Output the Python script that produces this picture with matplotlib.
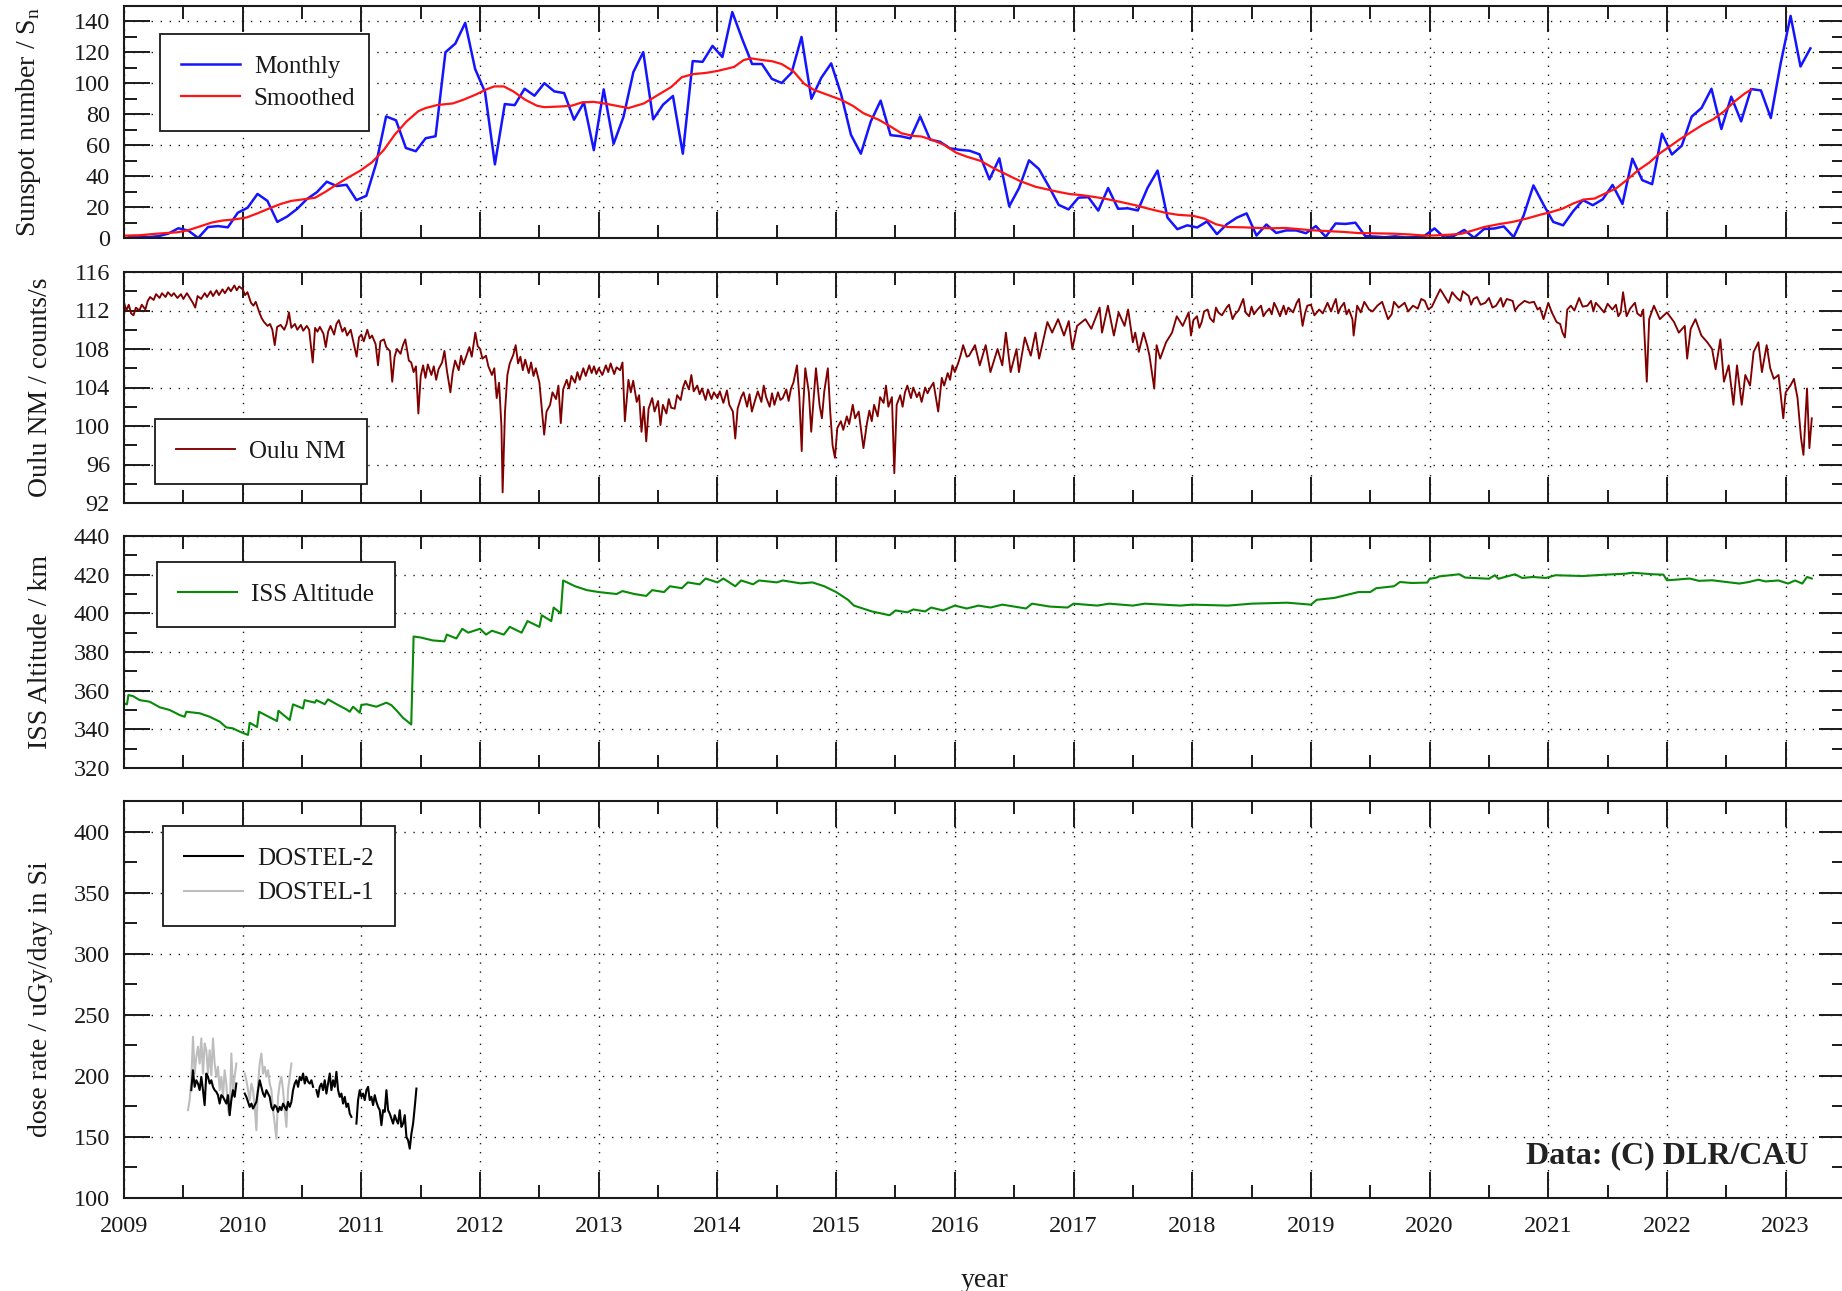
import numpy as np
import matplotlib
matplotlib.use("Agg")
import matplotlib.pyplot as plt
from matplotlib.ticker import MultipleLocator, FormatStrFormatter

plt.rcParams['font.family'] = ['Liberation Serif', 'DejaVu Serif']
plt.rcParams['mathtext.fontset'] = 'custom'
plt.rcParams['mathtext.rm'] = 'Liberation Serif'

# ---------------- data ----------------
sunspot_first_year = 2009
sunspot_monthly = [
    1.2, 1.3, 0.6, 1.2, 2.9, 6.3, 4.8, 0.0, 7.1, 7.7, 6.9, 16.3,
    19.6, 28.5, 24.0, 10.4, 13.9, 18.8, 25.2, 29.6, 36.4, 33.6, 34.4, 24.5,
    27.3, 48.3, 78.6, 76.1, 58.2, 56.1, 64.5, 65.8, 120.1, 125.7, 139.1, 109.3,
    94.4, 47.6, 86.6, 85.9, 96.5, 92.0, 100.1, 94.8, 93.7, 76.5, 87.6, 56.8,
    96.1, 60.9, 78.3, 107.3, 120.2, 76.7, 86.2, 91.8, 54.5, 114.4, 113.9, 124.2,
    117.0, 146.1, 128.7, 112.5, 112.5, 102.9, 100.2, 106.9, 130.0, 90.0, 103.6, 112.9,
    93.0, 66.7, 54.5, 75.3, 88.8, 66.5, 65.8, 64.4, 78.6, 63.6, 62.2, 58.0,
    57.0, 56.4, 54.1, 37.9, 51.5, 20.5, 32.4, 50.2, 44.6, 33.4, 21.4, 18.5,
    26.1, 26.4, 17.7, 32.3, 18.9, 19.2, 17.8, 32.6, 43.6, 13.2, 5.7, 8.2,
    6.8, 10.7, 2.5, 8.9, 13.1, 15.9, 1.6, 8.7, 3.3, 4.9, 4.9, 3.1,
    7.7, 0.8, 9.4, 9.1, 9.9, 1.2, 0.9, 0.5, 1.1, 0.4, 0.5, 1.5,
    6.2, 0.2, 1.5, 5.2, 0.2, 5.8, 6.1, 7.5, 0.6, 14.4, 34.0, 21.8,
    10.4, 8.2, 17.2, 24.5, 21.2, 25.0, 34.3, 22.0, 51.3, 37.4, 34.8, 67.5,
    54.0, 59.7, 78.5, 84.1, 96.5, 70.5, 91.4, 75.4, 96.3, 95.4, 77.6, 113.1,
    143.6, 110.9, 122.6,
]

smoothed_years = [
    2009.00, 2009.12, 2009.28, 2009.45, 2009.54, 2009.62, 2009.74, 2009.83, 2009.93,
    2010.03, 2010.12, 2010.22, 2010.32, 2010.41, 2010.51, 2010.61, 2010.70, 2010.80, 2010.90,
    2010.99, 2011.09, 2011.19, 2011.28, 2011.38, 2011.48, 2011.54, 2011.64, 2011.77, 2011.86,
    2011.96, 2012.06, 2012.12, 2012.20, 2012.28, 2012.38, 2012.48, 2012.54, 2012.67, 2012.77,
    2012.86, 2012.96, 2013.06, 2013.15, 2013.25, 2013.38, 2013.48, 2013.61, 2013.70, 2013.80,
    2013.90, 2014.00, 2014.14, 2014.22, 2014.28, 2014.38, 2014.46, 2014.54, 2014.64, 2014.73,
    2014.81, 2014.94, 2015.04, 2015.14, 2015.23, 2015.36, 2015.46, 2015.55, 2015.65, 2015.72,
    2015.81, 2015.91, 2016.01, 2016.10, 2016.22, 2016.33, 2016.43, 2016.55, 2016.68, 2016.78,
    2016.88, 2016.97, 2017.07, 2017.17, 2017.26, 2017.39, 2017.52, 2017.65, 2017.78, 2017.88,
    2018.01, 2018.10, 2018.20, 2018.30, 2018.43, 2018.55, 2018.68, 2018.78, 2018.89,
    2019.01, 2019.13, 2019.28, 2019.40, 2019.58, 2019.70, 2019.85, 2019.97, 2020.06, 2020.18,
    2020.27, 2020.37, 2020.46, 2020.58, 2020.70, 2020.82, 2020.94, 2021.03, 2021.12, 2021.21,
    2021.30, 2021.39, 2021.48, 2021.57, 2021.66, 2021.76, 2021.85, 2021.94, 2022.02, 2022.11,
    2022.21, 2022.30, 2022.39, 2022.48, 2022.57, 2022.66, 2022.71,
]
smoothed_values = [
    1.5, 1.7, 2.8, 3.7, 5.0, 7.0, 10.0, 11.3, 12.0,
    13.2, 15.8, 19.0, 22.0, 24.0, 25.0, 26.0, 30.0, 35.0, 39.6,
    43.5, 49.0, 57.0, 66.7, 75.3, 82.0, 84.0, 86.0, 87.0, 89.4,
    92.6, 96.3, 98.0, 98.0, 94.8, 89.4, 85.5, 84.6, 85.0, 85.5,
    87.7, 88.0, 86.8, 85.5, 84.0, 87.0, 91.6, 97.6, 104.0, 106.0,
    106.7, 108.0, 110.6, 115.0, 116.2, 115.0, 114.3, 112.5, 107.8, 99.8,
    95.9, 92.2, 89.4, 85.5, 80.7, 76.4, 72.0, 67.7, 66.0, 65.6,
    63.4, 60.2, 55.2, 52.6, 49.8, 45.0, 41.3, 36.8, 33.1, 31.4,
    29.7, 28.4, 27.7, 26.6, 25.5, 23.4, 21.2, 18.6, 16.2, 15.0,
    14.3, 12.6, 8.9, 7.1, 6.9, 6.5, 6.3, 6.5, 5.8,
    5.0, 4.5, 3.9, 3.2, 3.0, 2.8, 2.2, 1.5, 1.7, 2.2,
    2.8, 5.0, 7.1, 8.9, 10.4, 12.6, 15.2, 16.9, 19.0, 22.3,
    24.9, 25.5, 28.8, 32.0, 37.4, 44.0, 48.7, 54.8, 59.0, 63.9,
    68.8, 73.2, 76.8, 81.8, 88.3, 93.7, 95.9,
]

oulu_points = [
    (2009.00, 112.8), (2009.02, 112.0), (2009.04, 112.6), (2009.06, 111.7), (2009.08, 111.5),
    (2009.10, 112.3), (2009.13, 112.0), (2009.15, 112.6), (2009.18, 112.1), (2009.20, 113.0),
    (2009.22, 113.4), (2009.25, 113.1), (2009.27, 113.7), (2009.30, 113.3), (2009.32, 113.8),
    (2009.35, 113.4), (2009.37, 113.9), (2009.40, 113.5), (2009.42, 113.8), (2009.45, 113.3),
    (2009.48, 113.7), (2009.50, 113.2), (2009.53, 113.8), (2009.55, 113.4), (2009.58, 112.8),
    (2009.60, 112.3), (2009.62, 113.5), (2009.65, 113.2), (2009.68, 113.8), (2009.70, 113.4),
    (2009.73, 114.0), (2009.75, 113.5), (2009.78, 114.1), (2009.80, 113.6), (2009.83, 114.2),
    (2009.85, 113.8), (2009.88, 114.4), (2009.90, 114.0), (2009.93, 114.6), (2009.95, 114.1),
    (2009.97, 114.5), (2010.00, 114.2), (2010.02, 113.6), (2010.04, 113.9), (2010.07, 112.8),
    (2010.09, 112.5), (2010.11, 112.9), (2010.14, 111.8), (2010.16, 111.2), (2010.18, 110.8),
    (2010.21, 110.4), (2010.23, 110.6), (2010.25, 110.0), (2010.27, 108.4), (2010.29, 110.3),
    (2010.32, 110.5), (2010.35, 110.0), (2010.37, 110.6), (2010.39, 111.8), (2010.41, 110.2),
    (2010.44, 110.6), (2010.46, 110.0), (2010.49, 110.5), (2010.51, 109.9), (2010.54, 110.4),
    (2010.56, 110.0), (2010.59, 106.6), (2010.61, 110.2), (2010.63, 109.8), (2010.65, 110.3),
    (2010.68, 109.6), (2010.70, 108.2), (2010.72, 109.8), (2010.74, 110.4), (2010.77, 109.5),
    (2010.79, 110.6), (2010.81, 111.0), (2010.84, 109.8), (2010.86, 110.2), (2010.88, 109.4),
    (2010.91, 110.0), (2010.93, 108.9), (2010.96, 107.2), (2010.98, 109.2), (2011.00, 109.5),
    (2011.02, 108.8), (2011.05, 110.0), (2011.07, 109.1), (2011.09, 109.4), (2011.12, 108.5),
    (2011.14, 106.3), (2011.16, 108.8), (2011.19, 109.0), (2011.21, 108.2), (2011.24, 107.8),
    (2011.26, 104.6), (2011.28, 107.2), (2011.30, 108.0), (2011.33, 107.5), (2011.35, 108.4),
    (2011.37, 109.0), (2011.40, 106.8), (2011.42, 106.6), (2011.44, 105.6), (2011.46, 106.2),
    (2011.48, 101.3), (2011.50, 105.2), (2011.52, 106.3), (2011.54, 105.0), (2011.56, 106.4),
    (2011.59, 105.3), (2011.61, 106.2), (2011.63, 104.8), (2011.65, 105.9), (2011.68, 106.6),
    (2011.70, 107.8), (2011.72, 105.8), (2011.75, 103.5), (2011.77, 105.6), (2011.79, 106.8),
    (2011.82, 105.8), (2011.84, 107.3), (2011.86, 106.4), (2011.89, 107.5), (2011.91, 108.2),
    (2011.93, 107.2), (2011.96, 109.7), (2011.98, 108.3), (2012.00, 108.0), (2012.02, 107.0),
    (2012.05, 107.3), (2012.07, 106.2), (2012.10, 105.3), (2012.12, 106.0), (2012.14, 102.9),
    (2012.16, 104.5), (2012.18, 100.0), (2012.19, 93.1), (2012.21, 101.5), (2012.23, 105.3),
    (2012.25, 106.5), (2012.28, 107.4), (2012.30, 108.4), (2012.32, 106.5), (2012.34, 107.2),
    (2012.36, 105.8), (2012.38, 106.9), (2012.41, 105.5), (2012.43, 106.6), (2012.45, 105.2),
    (2012.47, 106.0), (2012.50, 104.5), (2012.52, 101.8), (2012.54, 99.1), (2012.56, 101.5),
    (2012.59, 102.2), (2012.61, 103.5), (2012.64, 102.8), (2012.66, 104.2), (2012.68, 100.3),
    (2012.70, 103.8), (2012.73, 104.8), (2012.75, 103.9), (2012.77, 105.2), (2012.80, 104.5),
    (2012.82, 105.6), (2012.84, 104.8), (2012.87, 106.0), (2012.89, 105.2), (2012.92, 106.3),
    (2012.94, 105.5), (2012.96, 106.2), (2012.98, 105.4), (2013.00, 106.0), (2013.03, 105.3),
    (2013.06, 106.3), (2013.08, 105.6), (2013.10, 106.5), (2013.13, 105.4), (2013.15, 106.1),
    (2013.18, 105.8), (2013.20, 106.6), (2013.22, 100.5), (2013.25, 104.8), (2013.27, 103.5),
    (2013.29, 104.7), (2013.32, 102.5), (2013.34, 103.2), (2013.36, 99.4), (2013.38, 102.0),
    (2013.40, 98.4), (2013.42, 101.8), (2013.45, 102.9), (2013.47, 101.5), (2013.50, 102.6),
    (2013.52, 100.1), (2013.54, 102.2), (2013.57, 101.3), (2013.59, 102.8), (2013.61, 101.9),
    (2013.64, 101.8), (2013.66, 103.2), (2013.69, 102.7), (2013.71, 104.0), (2013.73, 104.7),
    (2013.76, 103.8), (2013.78, 105.3), (2013.80, 103.6), (2013.83, 104.2), (2013.85, 103.3),
    (2013.87, 103.9), (2013.90, 102.7), (2013.92, 103.8), (2013.95, 102.8), (2013.97, 103.5),
    (2014.00, 102.9), (2014.02, 103.6), (2014.05, 102.4), (2014.08, 103.7), (2014.10, 102.2),
    (2014.13, 101.5), (2014.15, 98.7), (2014.17, 101.8), (2014.20, 103.0), (2014.22, 103.5),
    (2014.25, 102.0), (2014.27, 103.3), (2014.29, 101.5), (2014.32, 102.8), (2014.34, 103.6),
    (2014.37, 102.5), (2014.39, 104.2), (2014.41, 103.0), (2014.44, 102.0), (2014.46, 103.4),
    (2014.48, 102.2), (2014.51, 103.5), (2014.53, 102.7), (2014.55, 102.9), (2014.58, 103.8),
    (2014.60, 102.6), (2014.62, 103.9), (2014.64, 104.5), (2014.67, 106.3), (2014.69, 103.0),
    (2014.71, 97.4), (2014.72, 101.5), (2014.74, 106.0), (2014.77, 103.5), (2014.79, 99.4),
    (2014.81, 102.8), (2014.83, 106.0), (2014.86, 102.2), (2014.88, 100.8), (2014.90, 103.6),
    (2014.93, 106.0), (2014.95, 101.5), (2014.97, 98.0), (2014.99, 96.7), (2015.01, 99.8),
    (2015.04, 100.5), (2015.06, 99.6), (2015.09, 101.0), (2015.11, 100.2), (2015.14, 102.2),
    (2015.16, 100.8), (2015.19, 101.5), (2015.21, 99.6), (2015.23, 97.7), (2015.26, 100.3),
    (2015.28, 101.6), (2015.30, 100.5), (2015.32, 102.2), (2015.35, 101.0), (2015.37, 103.0),
    (2015.40, 102.4), (2015.42, 104.2), (2015.44, 102.0), (2015.47, 103.0), (2015.49, 95.1),
    (2015.51, 102.2), (2015.54, 103.2), (2015.56, 102.0), (2015.58, 103.5), (2015.60, 104.2),
    (2015.63, 102.9), (2015.65, 104.0), (2015.68, 103.0), (2015.70, 103.5), (2015.72, 102.5),
    (2015.75, 104.0), (2015.77, 103.4), (2015.79, 103.9), (2015.82, 104.5), (2015.84, 103.0),
    (2015.86, 101.5), (2015.89, 105.0), (2015.91, 104.2), (2015.94, 105.5), (2015.96, 104.8),
    (2015.98, 106.3), (2016.00, 105.6), (2016.03, 106.6), (2016.05, 107.4), (2016.07, 108.4),
    (2016.10, 107.2), (2016.12, 107.3), (2016.17, 108.4), (2016.21, 106.3), (2016.26, 108.4),
    (2016.30, 105.6), (2016.36, 108.0), (2016.40, 106.3), (2016.43, 109.7), (2016.47, 105.6),
    (2016.52, 108.0), (2016.54, 105.6), (2016.59, 109.2), (2016.64, 107.3), (2016.68, 109.7),
    (2016.71, 107.0), (2016.78, 110.8), (2016.82, 109.7), (2016.87, 111.1), (2016.92, 109.4),
    (2016.96, 110.9), (2016.99, 108.0), (2017.03, 110.4), (2017.10, 111.1), (2017.15, 110.1),
    (2017.22, 112.3), (2017.24, 109.7), (2017.29, 112.5), (2017.34, 109.4), (2017.38, 111.8),
    (2017.43, 110.4), (2017.46, 112.1), (2017.50, 108.7), (2017.52, 109.7), (2017.55, 107.7),
    (2017.59, 109.7), (2017.62, 108.4), (2017.64, 107.3), (2017.68, 103.9), (2017.70, 108.4),
    (2017.73, 107.0), (2017.78, 108.7), (2017.83, 109.7), (2017.87, 111.4), (2017.92, 110.4),
    (2017.97, 111.8), (2017.99, 109.4), (2018.01, 111.0), (2018.04, 111.4), (2018.06, 110.2),
    (2018.08, 110.8), (2018.10, 111.9), (2018.13, 112.1), (2018.15, 111.2), (2018.18, 110.8),
    (2018.20, 112.3), (2018.22, 111.8), (2018.25, 111.5), (2018.29, 112.3), (2018.31, 112.6),
    (2018.34, 111.1), (2018.36, 111.6), (2018.39, 112.0), (2018.41, 112.6), (2018.43, 113.2),
    (2018.45, 111.8), (2018.48, 111.4), (2018.50, 112.4), (2018.52, 111.6), (2018.55, 112.1),
    (2018.58, 112.5), (2018.60, 111.4), (2018.62, 111.8), (2018.65, 112.2), (2018.67, 111.6),
    (2018.69, 112.8), (2018.71, 112.3), (2018.74, 111.4), (2018.77, 112.5), (2018.79, 111.6),
    (2018.81, 112.3), (2018.85, 111.8), (2018.88, 112.8), (2018.90, 113.2), (2018.93, 110.4),
    (2018.95, 111.7), (2018.97, 112.5), (2019.00, 112.6), (2019.03, 111.5), (2019.07, 112.1),
    (2019.10, 111.7), (2019.14, 112.8), (2019.17, 111.9), (2019.19, 112.6), (2019.21, 113.2),
    (2019.23, 111.7), (2019.25, 112.3), (2019.28, 112.8), (2019.30, 111.6), (2019.32, 112.1),
    (2019.35, 111.1), (2019.36, 109.4), (2019.39, 112.5), (2019.42, 111.8), (2019.45, 112.9),
    (2019.49, 112.1), (2019.52, 111.9), (2019.56, 112.5), (2019.60, 112.9), (2019.65, 111.1),
    (2019.68, 111.6), (2019.70, 112.9), (2019.74, 112.3), (2019.79, 112.8), (2019.82, 111.9),
    (2019.86, 112.5), (2019.90, 112.2), (2019.93, 113.2), (2019.96, 113.0), (2019.99, 112.1),
    (2020.02, 112.4), (2020.05, 113.2), (2020.09, 114.2), (2020.12, 113.6), (2020.14, 113.2),
    (2020.16, 112.8), (2020.19, 113.9), (2020.21, 113.6), (2020.23, 113.3), (2020.26, 113.0),
    (2020.28, 114.0), (2020.30, 113.8), (2020.33, 113.5), (2020.35, 112.6), (2020.37, 113.2),
    (2020.40, 113.4), (2020.43, 112.6), (2020.47, 112.8), (2020.50, 113.3), (2020.53, 112.3),
    (2020.56, 112.5), (2020.60, 113.3), (2020.62, 112.4), (2020.65, 113.2), (2020.70, 113.0),
    (2020.72, 112.0), (2020.75, 112.5), (2020.80, 113.0), (2020.84, 112.8), (2020.88, 112.9),
    (2020.91, 112.1), (2020.93, 112.3), (2020.96, 111.1), (2021.00, 112.8), (2021.03, 111.8),
    (2021.07, 110.8), (2021.10, 110.6), (2021.12, 109.7), (2021.14, 109.2), (2021.16, 112.1),
    (2021.19, 112.5), (2021.22, 112.0), (2021.26, 113.3), (2021.29, 112.4), (2021.33, 112.5),
    (2021.36, 113.0), (2021.38, 111.9), (2021.40, 112.8), (2021.43, 112.4), (2021.47, 111.8),
    (2021.50, 112.7), (2021.54, 112.1), (2021.57, 112.6), (2021.59, 111.4), (2021.61, 111.8),
    (2021.63, 113.9), (2021.66, 111.4), (2021.69, 112.2), (2021.73, 112.8), (2021.75, 111.7),
    (2021.78, 111.4), (2021.80, 112.1), (2021.83, 104.6), (2021.85, 111.1), (2021.89, 112.5),
    (2021.94, 111.1), (2022.00, 111.8), (2022.06, 110.8), (2022.10, 109.7), (2022.15, 110.4),
    (2022.17, 107.0), (2022.20, 110.1), (2022.24, 111.1), (2022.29, 109.4), (2022.34, 108.7),
    (2022.38, 108.0), (2022.41, 105.9), (2022.45, 109.0), (2022.48, 104.6), (2022.52, 106.3),
    (2022.56, 102.2), (2022.59, 106.3), (2022.63, 102.2), (2022.66, 105.3), (2022.70, 104.2),
    (2022.73, 107.7), (2022.77, 108.7), (2022.80, 105.6), (2022.84, 108.4), (2022.87, 106.0),
    (2022.90, 104.9), (2022.94, 105.3), (2022.98, 100.8), (2023.00, 103.5), (2023.04, 104.2),
    (2023.07, 104.9), (2023.10, 102.9), (2023.13, 98.7), (2023.15, 97.0), (2023.18, 103.9),
    (2023.20, 97.7), (2023.22, 100.8),
]

iss_points = [
    (2009.000, 353.4), (2009.025, 352.9), (2009.037, 357.7), (2009.076, 357.2), (2009.132, 355.1),
    (2009.216, 354.3), (2009.301, 351.4), (2009.385, 350.0), (2009.469, 347.4), (2009.511, 346.5),
    (2009.525, 349.1), (2009.638, 348.3), (2009.722, 346.5), (2009.806, 344.0), (2009.862, 341.0),
    (2009.918, 340.5), (2009.975, 338.8), (2010.045, 337.1), (2010.059, 343.4), (2010.121, 341.2),
    (2010.138, 349.1), (2010.228, 346.2), (2010.289, 344.3), (2010.301, 349.6), (2010.396, 344.8),
    (2010.424, 352.9), (2010.508, 350.8), (2010.522, 355.1), (2010.607, 353.8), (2010.621, 355.1),
    (2010.691, 353.0), (2010.719, 355.5), (2010.803, 352.6), (2010.874, 350.3), (2010.902, 349.1),
    (2010.930, 351.7), (2010.986, 348.6), (2011.000, 352.6), (2011.042, 353.0), (2011.126, 351.7),
    (2011.211, 353.8), (2011.253, 352.5), (2011.30, 349.5), (2011.35, 346.0), (2011.42, 342.5),
    (2011.44, 388.0), (2011.50, 387.5), (2011.60, 386.0), (2011.70, 385.5), (2011.72, 389.0),
    (2011.80, 387.0), (2011.85, 392.0), (2011.90, 390.0), (2012.00, 392.0), (2012.05, 389.0),
    (2012.10, 391.0), (2012.20, 389.0), (2012.25, 393.0), (2012.35, 390.0), (2012.40, 396.0),
    (2012.50, 393.0), (2012.52, 399.0), (2012.60, 396.0), (2012.62, 403.0), (2012.68, 400.0),
    (2012.70, 417.0), (2012.80, 414.0), (2012.90, 412.0), (2013.00, 411.0), (2013.15, 410.0),
    (2013.20, 411.5), (2013.30, 410.0), (2013.40, 409.0), (2013.45, 412.0), (2013.55, 411.0),
    (2013.60, 414.0), (2013.70, 413.0), (2013.75, 416.0), (2013.85, 415.0), (2013.90, 418.0),
    (2014.00, 416.0), (2014.05, 418.0), (2014.15, 414.0), (2014.20, 417.0), (2014.30, 415.0),
    (2014.35, 417.0), (2014.50, 416.0), (2014.55, 417.0), (2014.70, 415.5), (2014.80, 416.0),
    (2014.90, 414.0), (2015.00, 411.0), (2015.10, 407.0), (2015.15, 404.0), (2015.25, 402.0),
    (2015.30, 401.0), (2015.45, 399.0), (2015.50, 401.5), (2015.60, 400.5), (2015.65, 402.0),
    (2015.75, 401.0), (2015.80, 403.0), (2015.90, 401.5), (2016.00, 404.0), (2016.10, 402.5),
    (2016.20, 404.0), (2016.30, 403.0), (2016.40, 404.5), (2016.60, 402.5), (2016.65, 405.0),
    (2016.80, 403.5), (2016.95, 403.0), (2017.00, 405.0), (2017.20, 404.0), (2017.30, 405.0),
    (2017.50, 404.0), (2017.60, 405.0), (2017.90, 404.0), (2018.00, 404.5), (2018.30, 404.0),
    (2018.50, 405.0), (2018.80, 405.5), (2019.00, 404.5), (2019.05, 407.0), (2019.20, 408.0),
    (2019.30, 409.5), (2019.40, 411.0), (2019.50, 411.0), (2019.55, 413.0), (2019.70, 414.0),
    (2019.75, 416.2), (2019.85, 415.7), (2019.98, 415.9), (2020.00, 417.8), (2020.06, 418.5),
    (2020.08, 419.1), (2020.25, 420.2), (2020.30, 418.5), (2020.50, 417.9), (2020.55, 419.7),
    (2020.58, 417.9), (2020.72, 420.2), (2020.78, 418.3), (2020.87, 418.8), (2020.98, 418.3),
    (2021.06, 419.7), (2021.29, 419.3), (2021.48, 420.0), (2021.65, 420.5), (2021.71, 421.0),
    (2021.88, 420.2), (2021.97, 420.0), (2022.00, 417.1), (2022.07, 417.4), (2022.19, 418.0),
    (2022.27, 416.8), (2022.38, 417.1), (2022.61, 415.4), (2022.69, 416.2), (2022.77, 417.4),
    (2022.83, 416.5), (2022.94, 417.0), (2023.02, 415.4), (2023.08, 417.0), (2023.14, 415.4),
    (2023.18, 418.8), (2023.22, 418.0),
]

dostel_step_years = 0.01405
dostel1_seg1_start = 2009.539
dostel1_seg1 = [171.9, 180.1, 196.4, 232.0, 201.9, 215.6, 223.8, 210.1, 230.6, 201.9,
                226.5, 221.0, 201.9, 221.0, 200.5, 230.6, 210.1, 199.2, 207.4, 188.3,
                199.2, 182.8, 204.6, 193.7, 171.9, 167.8, 218.3, 188.3, 199.2, 210.1]
dostel1_seg2_start = 2010.017
dostel1_seg2 = [202.0, 196.4, 188.3, 180.1, 193.7, 188.3, 174.6, 155.5, 193.7, 210.1,
                218.3, 201.9, 207.4, 199.2, 204.6, 193.7, 188.3, 171.9, 160.9, 148.6,
                182.8, 193.7, 199.2, 188.3, 171.9, 158.2, 188.3, 199.2, 210.1]
dostel2_seg1_start = 2009.567
dostel2_seg1 = [188.3, 204.6, 191.0, 196.4, 193.7, 188.3, 199.2, 188.3, 176.0, 201.9,
                199.2, 193.7, 196.4, 191.0, 188.3, 186.9, 184.2, 177.3, 184.2, 182.8,
                180.1, 177.3, 184.2, 167.8, 180.1, 188.3, 182.8, 193.7]
dostel2_seg2_start = 2010.017
dostel2_seg2 = [185.5, 182.8, 178.7, 174.6, 177.3, 173.2, 176.0, 178.7, 188.3, 196.4,
                191.0, 185.5, 182.8, 188.3, 185.5, 182.8, 174.6, 171.9, 176.0, 174.6,
                170.5, 174.6, 171.9, 177.3, 174.6, 171.9, 178.7, 174.6, 178.7, 188.3,
                193.7, 196.4, 191.0, 199.2, 196.4, 201.9, 193.7, 199.2, 195.1, 193.7,
                196.4, 191.0]
dostel2_seg3_start = 2010.621
dostel2_seg3 = [188.3, 182.8, 191.0, 193.7, 188.3, 196.4, 185.5, 193.7, 201.9, 188.3,
                196.4, 191.0, 203.3, 188.3, 182.8, 185.5, 177.3, 182.8, 174.6, 177.3,
                169.1, 166.4]
dostel2_seg4_start = 2010.958
dostel2_seg4 = [160.9, 180.1, 188.3, 182.8, 185.5, 180.1, 188.3, 191.0, 180.1, 182.8,
                176.0, 184.2, 178.7, 174.6, 171.9, 159.6, 171.9, 170.5, 188.3, 171.9,
                169.1, 165.0, 160.9, 167.8, 163.7, 160.9, 171.9, 158.2, 160.9, 167.8,
                150.0, 147.3, 140.4, 152.7, 160.9, 174.6, 189.6]

# ---------------- helpers ----------------
def segments(parts):
    xs, ys = [], []
    for start, vals in parts:
        t = start + dostel_step_years * np.arange(len(vals))
        xs.extend(list(t) + [np.nan])
        ys.extend(list(vals) + [np.nan])
    return np.array(xs), np.array(ys)

FIG_W, FIG_H = 1842, 1291
fig = plt.figure(figsize=(FIG_W / 100, FIG_H / 100), dpi=100)
LEFT, RIGHT = 124, 1845
AXW = RIGHT - LEFT

def add_panel(top, bottom):
    return fig.add_axes([LEFT / FIG_W, 1 - bottom / FIG_H,
                         AXW / FIG_W, (bottom - top) / FIG_H])

INK = '#1a1a1a'

def style(ax, ylim, major, minor, show_x):
    ax.set_xlim(2009, 2023.5)
    ax.set_ylim(*ylim)
    ax.xaxis.set_major_locator(MultipleLocator(1))
    ax.xaxis.set_minor_locator(MultipleLocator(0.5))
    ax.xaxis.set_major_formatter(FormatStrFormatter('%d'))
    ax.yaxis.set_major_locator(MultipleLocator(major))
    ax.yaxis.set_minor_locator(MultipleLocator(minor))
    ax.yaxis.set_major_formatter(FormatStrFormatter('%d'))
    ax.tick_params(which='both', direction='in', top=True, right=True,
                   width=1.4, color=INK)
    ax.tick_params(which='major', length=19)
    ax.tick_params(which='minor', length=9.5)
    ax.tick_params(axis='y', labelsize=17.5, pad=10, labelcolor=INK)
    ax.tick_params(axis='x', labelsize=17.5, pad=13, labelcolor=INK,
                   labelbottom=show_x)
    for s in ax.spines.values():
        s.set_linewidth(1.5)
        s.set_color(INK)
    ax.grid(True, which='major', color=INK, linestyle=(0, (1, 5.5)), linewidth=1.0)
    ax.set_axisbelow(True)

def legend(ax, x0, ytop, w, spacing=0.36, handles=None, labels=None):
    kw = dict(loc='upper left', bbox_to_anchor=(x0, ytop, w, 0), mode='expand',
              borderaxespad=0, fontsize=18, frameon=True, fancybox=False,
              framealpha=1, edgecolor=INK, handlelength=2.35,
              handletextpad=0.55, borderpad=0.85, labelspacing=spacing)
    if handles is None:
        leg = ax.legend(**kw)
    else:
        leg = ax.legend(handles, labels, **kw)
    leg.get_frame().set_linewidth(1.3)
    for t in leg.get_texts():
        t.set_color(INK)
    return leg

# ---------------- panel 1: sunspots ----------------
ax1 = add_panel(6, 238)
style(ax1, (0, 150), 20, 10, False)
t_month = sunspot_first_year + (np.arange(len(sunspot_monthly)) + 0.5) / 12
ax1.plot(t_month, sunspot_monthly, color='#1414ff', lw=1.8, label='Monthly')
ax1.plot(smoothed_years, smoothed_values, color='#ff1414', lw=1.6, label='Smoothed')
ax1.set_ylabel(r'Sunspot number / S$_\mathregular{n}$', fontsize=20, color=INK,
               va='baseline')
ax1.yaxis.set_label_coords((35 - LEFT) / AXW, 0.5)
legend(ax1, (160 - LEFT) / AXW, 1 - (34 - 6) / 232, 209 / AXW, spacing=0.38)

# ---------------- panel 2: Oulu NM ----------------
ax2 = add_panel(272, 503)
style(ax2, (92, 116), 4, 2, False)
oulu = sorted(oulu_points)
ax2.plot([p[0] for p in oulu], [p[1] for p in oulu], color='#800000', lw=1.35,
         label='Oulu NM')
ax2.set_ylabel('Oulu NM / counts/s', fontsize=20, color=INK, va='baseline')
ax2.yaxis.set_label_coords((47 - LEFT) / AXW, 0.5)
legend(ax2, (155 - LEFT) / AXW, 1 - (419 - 272) / 231, 212 / AXW)

# ---------------- panel 3: ISS altitude ----------------
ax3 = add_panel(536, 768)
style(ax3, (320, 440), 20, 10, False)
iss = sorted(iss_points)
ax3.plot([p[0] for p in iss], [p[1] for p in iss], color='#078a07', lw=1.5,
         label='ISS Altitude')
ax3.set_ylabel('ISS Altitude / km', fontsize=20, color=INK, va='baseline')
ax3.yaxis.set_label_coords((47 - LEFT) / AXW, 0.5)
legend(ax3, (157 - LEFT) / AXW, 1 - (562 - 536) / 232, 238 / AXW)

# ---------------- panel 4: DOSTEL dose rate ----------------
ax4 = add_panel(801, 1198)
style(ax4, (100, 425), 50, 25, True)
x1, y1 = segments([(dostel1_seg1_start, dostel1_seg1), (dostel1_seg2_start, dostel1_seg2)])
x2, y2 = segments([(dostel2_seg1_start, dostel2_seg1), (dostel2_seg2_start, dostel2_seg2),
                   (dostel2_seg3_start, dostel2_seg3), (dostel2_seg4_start, dostel2_seg4)])
ax4.plot(x1, y1, color='#bdbdbd', lw=1.5, label='DOSTEL-1', zorder=2)
ax4.plot(x2, y2, color='#000000', lw=1.5, label='DOSTEL-2', zorder=3)
h, l = ax4.get_legend_handles_labels()
ax4.set_ylabel('dose rate / uGy/day in Si', fontsize=20, color=INK, va='baseline')
ax4.yaxis.set_label_coords((47 - LEFT) / AXW, 0.5)
ax4.set_xlabel('year', fontsize=20, color=INK, labelpad=22)
legend(ax4, (163 - LEFT) / AXW, 1 - (826 - 801) / 397, 232 / AXW, spacing=0.48,
       handles=[h[1], h[0]], labels=[l[1], l[0]])
ax4.text((1808 - LEFT) / AXW, (1198 - 1163) / 397, 'Data: (C) DLR/CAU',
         transform=ax4.transAxes, ha='right', va='baseline', fontsize=23,
         fontweight='bold', color='#222222')

fig.savefig('out.png', dpi=100)
